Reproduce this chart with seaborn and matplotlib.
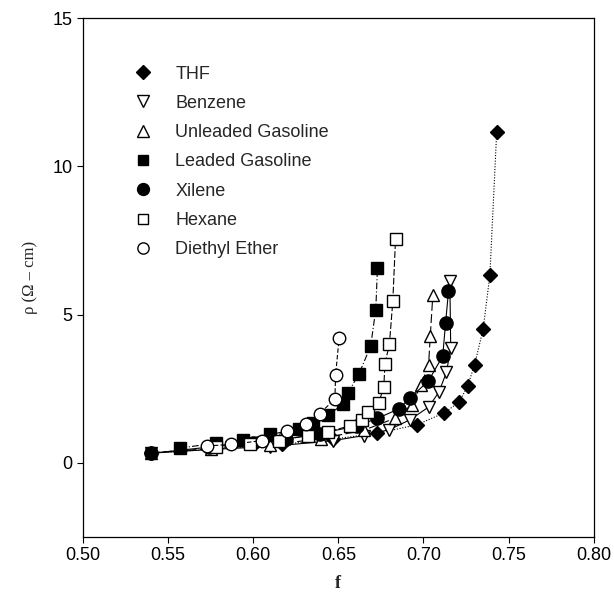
import numpy as np
import pandas as pd
import matplotlib
matplotlib.use('Agg')
import matplotlib.pyplot as plt
from matplotlib.lines import Line2D
import seaborn as sns

# resistivity vs filler fraction
f_thf = [0.540, 0.617, 0.647, 0.673, 0.696, 0.712, 0.721, 0.726, 0.730, 0.735, 0.739, 0.743]
rho_thf = [0.32, 0.62, 0.80, 1.00, 1.28, 1.68, 2.05, 2.60, 3.30, 4.50, 6.32, 11.15]

f_benz = [0.540, 0.575, 0.610, 0.647, 0.665, 0.680, 0.692, 0.703, 0.709, 0.7135, 0.716, 0.7155]
rho_benz = [0.33, 0.45, 0.55, 0.75, 0.92, 1.12, 1.45, 1.88, 2.38, 3.05, 3.88, 6.15]

f_unl = [0.540, 0.575, 0.610, 0.640, 0.665, 0.683, 0.693, 0.6985, 0.703, 0.704, 0.7055]
rho_unl = [0.34, 0.48, 0.60, 0.82, 1.10, 1.50, 1.95, 2.62, 3.30, 4.28, 5.65]

f_lead = [0.557, 0.578, 0.594, 0.610, 0.627, 0.635, 0.644, 0.653, 0.6555, 0.662, 0.669, 0.672, 0.673]
rho_lead = [0.50, 0.66, 0.78, 0.96, 1.14, 1.34, 1.63, 1.97, 2.35, 2.98, 3.94, 5.17, 6.58]

f_xil = [0.540, 0.574, 0.600, 0.619, 0.639, 0.661, 0.673, 0.6855, 0.692, 0.7028, 0.7113, 0.713, 0.7147]
rho_xil = [0.32, 0.53, 0.68, 0.80, 0.98, 1.25, 1.50, 1.82, 2.19, 2.75, 3.60, 4.72, 5.78]

f_hex = [0.578, 0.598, 0.615, 0.632, 0.644, 0.657, 0.664, 0.6675, 0.6737, 0.6767, 0.6774, 0.680, 0.682, 0.6836]
rho_hex = [0.52, 0.62, 0.75, 0.92, 1.05, 1.25, 1.45, 1.70, 2.03, 2.55, 3.35, 4.00, 5.45, 7.55]

f_eth = [0.573, 0.587, 0.605, 0.620, 0.631, 0.639, 0.648, 0.6484, 0.6505]
rho_eth = [0.57, 0.62, 0.75, 1.06, 1.32, 1.66, 2.15, 2.97, 4.22]

names = ['THF', 'Benzene', 'Unleaded Gasoline', 'Leaded Gasoline',
         'Xilene', 'Hexane', 'Diethyl Ether']
fs = [f_thf, f_benz, f_unl, f_lead, f_xil, f_hex, f_eth]
rhos = [rho_thf, rho_benz, rho_unl, rho_lead, rho_xil, rho_hex, rho_eth]

markers = ['D', 'v', '^', 's', 'o', 's', 'o']
filled = [True, False, False, True, True, False, False]
msize = [7.5, 9, 9, 8, 9.5, 8, 9]
lstyles = [(0, (1, 1.5)), '-', (0, (8, 3)), (0, (6, 2, 1, 2)), '-', (0, (6, 2)), (0, (4, 2))]

sns.set_style('white')
plt.rcParams['font.family'] = ['Liberation Sans', 'DejaVu Sans']

fig = plt.figure(figsize=(6.14, 6.04), dpi=100)
ax = fig.add_axes([0.135, 0.111, 0.832, 0.859])

for name, x, y, m, fl, ms, ls in zip(names, fs, rhos, markers, filled, msize, lstyles):
    df = pd.DataFrame({'f': x, 'rho': y})
    sns.lineplot(data=df, x='f', y='rho', sort=False, ax=ax, color='black',
                 lw=0.8, linestyle=ls, marker=m, markersize=ms,
                 markerfacecolor='black' if fl else 'white',
                 markeredgecolor='black', markeredgewidth=1.0)

ax.set_xlim(0.50, 0.80)
ax.set_ylim(-2.5, 15)
ax.set_xticks(np.arange(0.50, 0.801, 0.05))
ax.set_xticklabels(['%.2f' % v for v in np.arange(0.50, 0.801, 0.05)])
ax.set_yticks([0, 5, 10, 15])
ax.tick_params(axis='both', direction='out', length=4, width=0.8, labelsize=13,
               bottom=True, left=True, colors='black')
for s in ax.spines.values():
    s.set_color('black')
    s.set_linewidth(0.9)

ax.set_xlabel('f', fontsize=13, fontweight='bold', family='Liberation Serif', labelpad=8)
ax.set_ylabel('ρ (Ω – cm)', fontsize=12, family='Liberation Serif', labelpad=10)

handles = [Line2D([], [], linestyle='none', marker=m, markersize=ms * 0.9,
                  markerfacecolor='black' if fl else 'white',
                  markeredgecolor='black', markeredgewidth=1.0)
           for m, fl, ms in zip(markers, filled, msize)]
ax.legend(handles, names, loc='upper left', bbox_to_anchor=(0.05, 0.94),
          frameon=False, fontsize=13, labelspacing=0.68, handletextpad=0.8)

fig.savefig('out.png', dpi=100)
